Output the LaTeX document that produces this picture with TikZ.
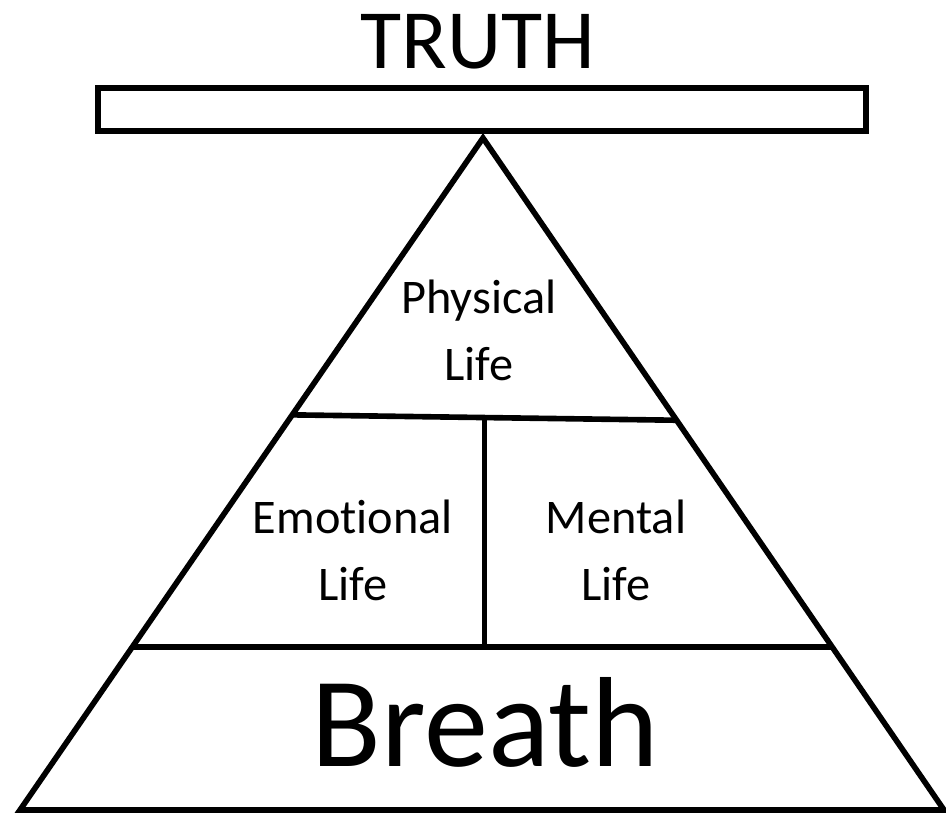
\documentclass[tikz,border=0pt]{standalone}
\usepackage{fontspec}
\setmainfont{Carlito}[Ligatures=NoCommon]
\usetikzlibrary{calc}

\begin{document}
\begin{tikzpicture}[x=0.02cm,y=-0.02cm,line width=3.2pt,
  lbl/.style={font=\fontsize{27.5}{38}\selectfont,align=center,anchor=base,inner sep=0pt}]
  \useasboundingbox (0,0) rectangle (946,814);
  \coordinate (apex) at (483,138); \coordinate (bl) at (20,810); \coordinate (br) at (944,810);
  \coordinate (barA) at (98,88); \coordinate (barB) at (866,131);
  \coordinate (upL) at ($(apex)!0.412!(bl)$); \coordinate (upR) at ($(apex)!0.42!(br)$);
  \coordinate (loL) at ($(apex)!0.757!(bl)$); \coordinate (loR) at ($(apex)!0.757!(br)$);
  \coordinate (midT) at ($(upL)!0.5!(upR)$); \coordinate (midB) at (midT |- loL);
  \draw (barA) rectangle (barB);
  \draw (apex) -- (bl) -- (br) -- cycle;
  \draw (upL) -- (upR); \draw (loL) -- (loR); \draw (midT) -- (midB);
  \node[font=\fontsize{48}{48}\selectfont,anchor=base,inner sep=0pt] (truth) at (478,69) {TRUTH};
  \node[font=\fontsize{73}{73}\selectfont,anchor=base,inner sep=0pt] (breath) at (485,766) {Breath};
  \foreach \n/\x/\y/\t in {phys/479/380/Physical\\Life,emo/353/600/Emotional\\Life,ment/616/600/Mental\\Life}
    \node[lbl] (\n) at (\x,\y) {\t};
\end{tikzpicture}
\end{document}
